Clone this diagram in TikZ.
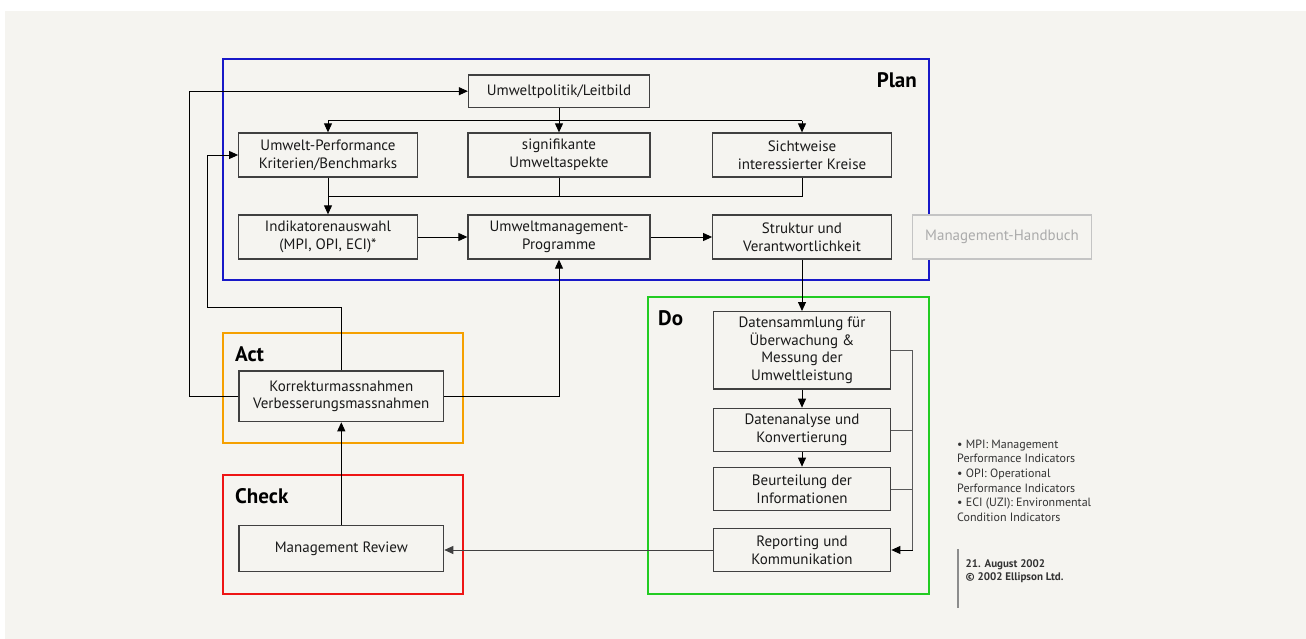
\documentclass[tikz,border=0pt]{standalone}
\usepackage{fontspec}
\setmainfont{PT Sans}
\usetikzlibrary{arrows.meta}
\definecolor{bg}{HTML}{F5F4F0}
\definecolor{boxline}{HTML}{404040}
\definecolor{planblue}{HTML}{1818C8}
\definecolor{dogreen}{HTML}{22CC22}
\definecolor{actorange}{HTML}{F5A000}
\definecolor{checkred}{HTML}{EE1515}
\definecolor{lightgray}{HTML}{C4C4C4}
\definecolor{lighttext}{HTML}{ABABAB}
\definecolor{notegray}{HTML}{333333}
\begin{document}
\begin{tikzpicture}[x=1pt,y=-1pt,
  box/.style={draw=boxline, line width=1.3pt, fill=bg, align=center, inner sep=0pt,
    font=\fontsize{15}{17.7}\selectfont, text=black!90},
  frame/.style={line width=2pt},
  phase/.style={font=\fontsize{21}{24}\selectfont\bfseries, inner sep=0pt},
  conn/.style={line width=0.9pt, draw=black},
  arr/.style={conn, -{Triangle[length=9pt,width=8pt]}},
  busline/.style={line width=0.9pt, draw=black!65},
]
\useasboundingbox (0,0) rectangle (1306,639);
\fill[white] (0,0) rectangle (1306,639);
\fill[bg] (5,11) rectangle (1306,639);

% frames
\draw[frame, planblue] (223,59.5) rectangle (929,280);
\draw[frame, dogreen] (648.3,296.7) rectangle (929,594);
\draw[frame, actorange] (223.3,332.7) rectangle (462.7,442.7);
\draw[frame, checkred] (223.3,475) rectangle (462.7,594.3);

\node[phase, anchor=base east] (lplan) at (917,87.3) {Plan};
\node[phase, anchor=base west] (ldo) at (658,325) {Do};
\node[phase, anchor=base west] (lact) at (235,361) {Act};
\node[phase, anchor=base west] (lcheck) at (235,503) {Check};

% Plan nodes
\node[box, minimum width=181pt, minimum height=32.3pt] (pol) at (559,91.2) {Umweltpolitik/Leitbild};
\node[box, minimum width=178.5pt, minimum height=44pt] (perf) at (328,155) {Umwelt-Performance\\Kriterien/Benchmarks};
\node[box, minimum width=182pt, minimum height=44pt] (sig) at (559,155) {signifikante\\Umweltaspekte};
\node[box, minimum width=178.5pt, minimum height=44pt] (sicht) at (802,155) {Sichtweise\\interessierter Kreise};
\node[box, minimum width=178.5pt, minimum height=44pt] (ind) at (328,237) {Indikatorenauswahl\\(MPI, OPI, ECI)*};
\node[box, minimum width=182pt, minimum height=44pt] (prog) at (559,237) {Umweltmanagement-\\Programme};
\node[box, minimum width=178.5pt, minimum height=44pt] (struk) at (802,237) {Struktur und\\Verantwortlichkeit};
\node[box, draw=lightgray, text=lighttext, minimum width=178.5pt, minimum height=44pt] (hb) at (1002,237) {Management-Handbuch};

% Do nodes
\node[box, minimum width=177.4pt, minimum height=77.3pt] (dat) at (802,350.3) {Datensammlung für\\Überwachung \&\\Messung der\\Umweltleistung};
\node[box, minimum width=177.4pt, minimum height=43.4pt] (ana) at (802,430) {Datenanalyse und\\Konvertierung};
\node[box, minimum width=177.4pt, minimum height=43.4pt] (beu) at (802,489) {Beurteilung der\\Informationen};
\node[box, minimum width=177.4pt, minimum height=43.4pt] (rep) at (802,550) {Reporting und\\Kommunikation};

% Act / Check nodes
\node[box, minimum width=204.7pt, minimum height=50.7pt] (kor) at (341.3,396.3) {Korrekturmassnahmen\\Verbesserungsmassnahmen};
\node[box, minimum width=204.7pt, minimum height=45.6pt] (rev) at (341.3,548.5) {Management Review};

% Plan connectors
\coordinate (b1) at (328,120.7);
\coordinate (b2) at (802,120.7);
\draw[conn] (b1) -- (b2);
\draw[arr] (b1) -- (perf.north);
\draw[arr] (b2) -- (sicht.north);
\draw[arr] (pol.south) -- (sig.north);

\coordinate (c1) at (328,196);
\coordinate (c3) at (802,196);
\draw[conn] (sicht.south) -- (c3) -- (c1);
\draw[conn] (sig.south) -- (sig.south |- c1);
\draw[arr] (perf.south) -- (ind.north);

\draw[arr] (ind.east) -- (prog.west);
\draw[arr] (prog.east) -- (struk.west);
\draw[arr] (struk.south) -- (dat.north);

% Do connectors
\draw[arr] (dat.south) -- (ana.north);
\draw[arr] (ana.south) -- (beu.north);
\coordinate (r1) at (912.7,350.3);
\coordinate (r4) at (912.7,550);
\draw[busline] (dat.east) -- (r1) -- (r4);
\draw[busline] (ana.east) -- (ana.east -| r1);
\draw[busline] (beu.east) -- (beu.east -| r1);
\draw[arr] (r4) -- (rep.east);
\draw[arr, draw=black!75] (rep.west) -- (rep.west -| rev.east);

% Check / Act connectors
\draw[arr] (rev.north) -- (kor.south);
\draw[arr] (kor.east) -| (prog.south);
\coordinate (lo) at (189.5,396.3);
\draw[arr] (kor.west) -- (lo) |- (pol.west);
\coordinate (li) at (207.5,307.3);
\draw[arr] (kor.north) |- (li) |- (perf.west);

% notes
\node[anchor=north west, align=left, inner sep=0pt, text=notegray,
  font=\fontsize{12}{14.6}\selectfont] (notes) at (957,439.5)
  {• MPI: Management\\Performance Indicators\\• OPI: Operational\\Performance Indicators\\• ECI (UZI): Environmental\\Condition Indicators};
\draw[line width=1.8pt, draw=black!45] (957.7,549.3) -- (957.7,608.3);
\node[anchor=north west, align=left, inner sep=0pt, text=notegray,
  font=\fontsize{11}{13}\selectfont\bfseries] (date) at (965.5,559)
  {21. August 2002\\© 2002 Ellipson Ltd.};
\end{tikzpicture}
\end{document}
